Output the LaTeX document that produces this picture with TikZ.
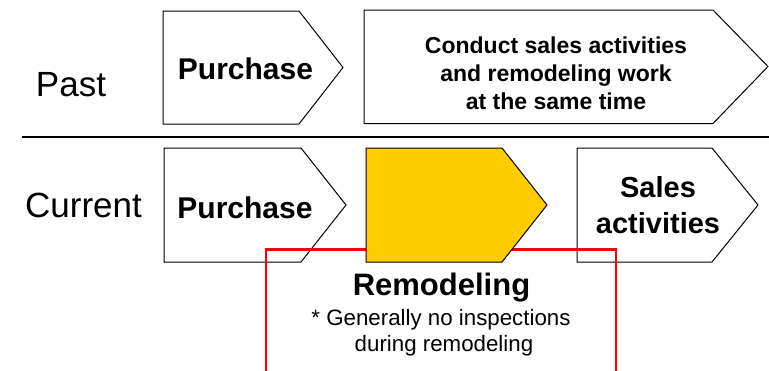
\documentclass[tikz,border=0pt]{standalone}
\usepackage{fontspec}
\setmainfont{Liberation Sans}
\definecolor{remyellow}{HTML}{FFCC00}
\definecolor{remred}{HTML}{FF0000}
\tikzset{
  arrowbox/.style={draw=black, line width=1pt, fill=white, line join=miter},
  yelbox/.style={draw=black, line width=1pt, fill=remyellow, line join=miter},
  rowlabel/.style={anchor=base, inner sep=0pt, font=\fontsize{35}{42}\selectfont},
  boxtext/.style={anchor=base, inner sep=0pt, font=\bfseries\fontsize{30}{36}\selectfont},
  smallbold/.style={anchor=base, inner sep=0pt, font=\bfseries\fontsize{23}{28}\selectfont},
  notetext/.style={anchor=base, inner sep=0pt, font=\fontsize{22.3}{26}\selectfont},
}
\begin{document}
\begin{tikzpicture}[x=1pt, y=-1pt]
\useasboundingbox (0,0) rectangle (769,370);
% divider
\draw[line width=2pt] (22,136.5) -- (769,136.5);
% Past row
\draw[arrowbox] (163,11) -- (299,11) -- (343,67.5) -- (299,124) -- (163,124) -- cycle;
\draw[arrowbox] (364,10) -- (713,10) -- (768,66.5) -- (713,123.5) -- (364,123.5) -- cycle;
\node[rowlabel] (past) at (71,96) {Past};
\node[boxtext] (p1) at (245.5,79) {Purchase};
\node[smallbold] (c1) at (556,53) {Conduct sales activities};
\node[smallbold] (c2) at (556,81.5) {and remodeling work};
\node[smallbold] (c3) at (556,109) {at the same time};
% Current row
\draw[arrowbox] (164,148) -- (301,148) -- (346,205) -- (301,262) -- (164,262) -- cycle;
\draw[arrowbox] (577,148) -- (712,148) -- (758,205) -- (712,262) -- (577,262) -- cycle;
\node[rowlabel] (cur) at (83.5,217) {Current};
\node[boxtext] (p2) at (245,218) {Purchase};
\node[boxtext, font=\bfseries\fontsize{29}{35}\selectfont] (s1) at (658,197) {Sales};
\node[boxtext, font=\bfseries\fontsize{29}{35}\selectfont] (s2) at (658,233) {activities};
% red bracket
\coordinate (rl) at (266,371);
\coordinate (rr) at (616,371);
\draw[remred, line width=2.5pt, line join=miter] (rl) -- (266,249.5) -- (616,249.5) -- (rr);
% yellow remodeling arrow
\draw[yelbox] (366,148) -- (502,148) -- (547,205) -- (502,262) -- (366,262) -- cycle;
\node[boxtext, font=\bfseries\fontsize{31}{37}\selectfont] (rem) at (441.5,295) {Remodeling};
\node[notetext] (n1) at (441,325) {* Generally no inspections};
\node[notetext] (n2) at (444,351) {during remodeling};
\end{tikzpicture}
\end{document}
